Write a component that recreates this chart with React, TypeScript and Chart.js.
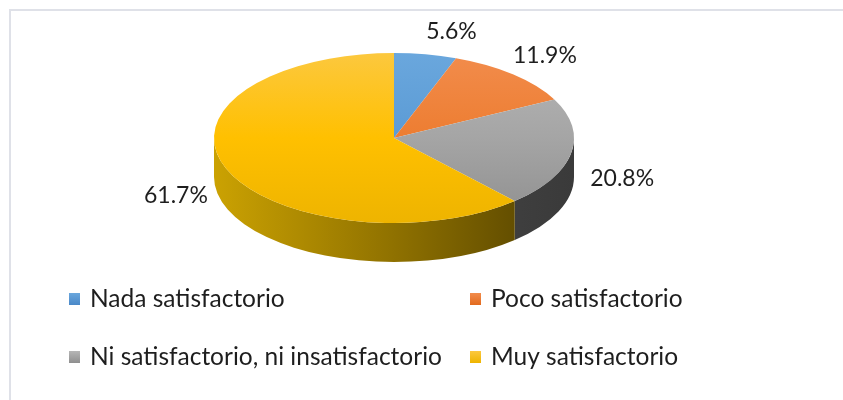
import React, { useEffect, useRef } from "react";
import { Chart, registerables } from "chart.js";

Chart.register(...registerables);

const categories = [
  "Nada satisfactorio",
  "Poco satisfactorio",
  "Ni satisfactorio, ni insatisfactorio",
  "Muy satisfactorio",
];
const values = [5.6, 11.9, 20.8, 61.7];
const valueLabels = ["5.6%", "11.9%", "20.8%", "61.7%"];

// top-face gradient stops (light -> base -> dark)
const topColors = [
  ["#6aa7dd", "#5b9bd5", "#4a88c8"],
  ["#f28c4c", "#ed7d31", "#e26a1e"],
  ["#b6b6b6", "#a5a5a5", "#8f8f8f"],
  ["#fcc83e", "#ffc000", "#eeb400"],
];
// side-wall gradient stops (left -> right)
const sideColors = [
  ["#3d74a8", "#2a5580"],
  ["#b85a1c", "#8a4010"],
  ["#555555", "#3a3a3a"],
  ["#cba202", "#8f7100", "#4f3e00"],
];

const W = 843;
const H = 400;
const CX = 394; // projected ellipse centre
const CY = 138;
const RX = 180;
const RY = 85;
const DEPTH = 39;

export default function App() {
  const ref = useRef<HTMLCanvasElement | null>(null);

  useEffect(() => {
    if (!ref.current) return;

    const project = (chart: any) => {
      const arc: any = chart.getDatasetMeta(0).data[0];
      const r = arc.outerRadius;
      return { x0: arc.x, y0: arc.y, r, k: RY / r };
    };

    const threeD = {
      id: "threeD",
      beforeDraw(chart: any) {
        const ctx = chart.ctx;
        ctx.save();
        ctx.fillStyle = "#ffffff";
        ctx.fillRect(0, 0, W, H);
        ctx.fillStyle = "#dfe1e8";
        ctx.fillRect(9, 9, 2, H - 9);
        ctx.fillRect(9, 9, W - 9, 2);
        ctx.restore();
      },
      beforeDatasetsDraw(chart: any) {
        const ctx = chart.ctx;
        const meta = chart.getDatasetMeta(0);
        const { x0, y0, r, k } = project(chart);
        ctx.save();
        ctx.translate(CX, CY);
        ctx.scale(1, k);
        ctx.translate(-x0, -y0);
        const dUser = DEPTH / k;
        meta.data.forEach((el: any, i: number) => {
          const s = el.startAngle;
          const e = el.endAngle;
          for (const base of [0, Math.PI * 2]) {
            const a0 = Math.max(s, base);
            const a1 = Math.min(e, base + Math.PI);
            if (a1 <= a0) continue;
            const g = ctx.createLinearGradient(x0 - r, 0, x0 + r, 0);
            const st = sideColors[i];
            st.forEach((c, j) => g.addColorStop(j / (st.length - 1), c));
            ctx.beginPath();
            ctx.arc(x0, y0, r, a0, a1, false);
            ctx.arc(x0, y0 + dUser, r, a1, a0, true);
            ctx.closePath();
            ctx.fillStyle = g;
            ctx.fill();
          }
        });
      },
      afterDatasetsDraw(chart: any) {
        chart.ctx.restore();
      },
      afterDraw(chart: any) {
        const ctx = chart.ctx;
        const meta = chart.getDatasetMeta(0);
        ctx.save();
        // data labels
        ctx.font = '23px "Lato"';
        ctx.fillStyle = "#1e1e1e";
        ctx.textAlign = "center";
        ctx.textBaseline = "middle";
        meta.data.forEach((el: any, i: number) => {
          const mid = (el.startAngle + el.endAngle) / 2;
          const c = Math.cos(mid);
          const s = Math.sin(mid);
          const w = ctx.measureText(valueLabels[i]).width;
          const h = 18;
          let lx: number;
          let ly: number;
          if (s < 0) {
            // far side (perspective: narrower, slightly higher)
            lx = CX + 1.12 * RX * c + (w / 2) * Math.sign(c) * (1 - 0.7 * Math.abs(c));
            ly = CY + 1.16 * RY * s - h / 2;
          } else {
            lx = CX + 1.12 * RX * c + (w / 2 - 2) * Math.sign(c);
            ly = CY + 1.12 * RY * s + h / 2 + DEPTH * 0.38;
          }
          ctx.fillText(valueLabels[i], lx, ly);
        });
        // legend
        ctx.font = '24.5px "Lato"';
        ctx.textAlign = "left";
        categories.forEach((name, i) => {
          const col = i % 2;
          const row = Math.floor(i / 2);
          const bx = 69 + col * 401;
          const cy = 299 + row * 58;
          const g = ctx.createLinearGradient(0, cy - 6, 0, cy + 6);
          g.addColorStop(0, topColors[i][0]);
          g.addColorStop(1, topColors[i][2]);
          ctx.fillStyle = g;
          ctx.fillRect(bx, cy - 6, 11, 12);
          ctx.fillStyle = "#1e1e1e";
          ctx.fillText(name, bx + 21, cy);
        });
        ctx.restore();
      },
    };

    const chart = new Chart(ref.current, {
      type: "pie",
      data: {
        labels: categories,
        datasets: [
          {
            data: values,
            borderWidth: 0,
            backgroundColor: (c: any) => {
              const ch = c.chart;
              const area = ch.chartArea;
              if (!area) return topColors[c.dataIndex][1];
              const g = ch.ctx.createLinearGradient(0, area.top, 0, area.bottom);
              const t = topColors[c.dataIndex];
              g.addColorStop(0, t[0]);
              g.addColorStop(0.5, t[1]);
              g.addColorStop(1, t[2]);
              return g;
            },
            clip: false,
          } as any,
        ],
      },
      options: {
        responsive: false,
        animation: false,
        layout: { padding: { left: CX - RX, right: W - CX - RX, top: 10, bottom: H - 10 - 2 * RX } },
        plugins: {
          legend: { display: false },
          tooltip: { enabled: false },
        },
      },
      plugins: [threeD],
    });
    return () => chart.destroy();
  }, []);

  return (
    <div style={{ position: "absolute", left: 0, top: 0, width: W, height: H }}>
      <canvas ref={ref} width={W} height={H} style={{ display: "block" }} />
    </div>
  );
}
